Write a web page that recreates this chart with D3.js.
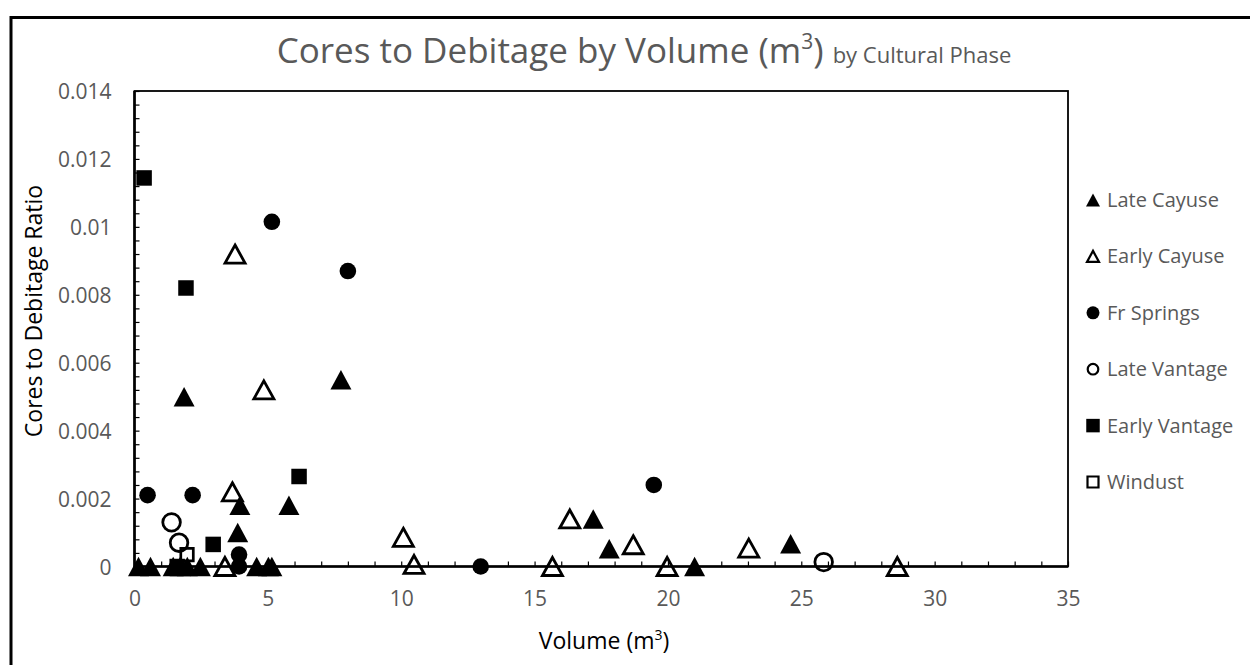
<!DOCTYPE html>
<html><head><meta charset="utf-8">
<script src="https://cdn.jsdelivr.net/npm/d3@7"></script>
<style>body{margin:0;background:#fff;} text{font-family:"Open Sans",sans-serif;}</style>
</head><body><svg id="c" width="1250" height="665"></svg>
<script>
// ---- data ----
const seriesNames = ["Late Cayuse", "Early Cayuse", "Fr Springs", "Late Vantage", "Early Vantage", "Windust"];
const lateCayuseX = [1.86, 3.95, 3.87, 7.74, 5.79, 17.2, 17.8, 24.6, 21.0, 0.15, 0.6, 1.45, 1.71, 1.98, 2.47, 4.58, 5.02, 5.15];
const lateCayuseY = [0.0050, 0.0018, 0.0010, 0.0055, 0.0018, 0.0014, 0.00052, 0.00067, 0, 0, 0, 0, 0, 0, 0, 0, 0, 0];
const earlyCayuseX = [3.77, 4.85, 3.67, 10.08, 10.48, 3.39, 15.67, 16.32, 18.7, 19.97, 23.03, 28.6];
const earlyCayuseY = [0.0092, 0.0052, 0.0022, 0.00086, 0.00006, 0, 0, 0.0014, 0.00064, 0, 0.00054, 0];
const frSpringsX = [0.49, 2.18, 5.15, 8.0, 3.92, 3.92, 12.98, 19.47];
const frSpringsY = [0.0021, 0.0021, 0.01015, 0.0087, 0.00035, 0, 0, 0.0024];
const lateVantageX = [1.39, 1.67, 25.84];
const lateVantageY = [0.0013, 0.0007, 0.00013];
const earlyVantageX = [0.36, 1.93, 6.17, 2.95, 1.6];
const earlyVantageY = [0.01144, 0.0082, 0.00265, 0.00065, 0];
const windustX = [1.97];
const windustY = [0.00035];
const xTickValues = [0, 5, 10, 15, 20, 25, 30, 35];
const yTickValues = [0, 0.002, 0.004, 0.006, 0.008, 0.01, 0.012, 0.014];
const yTickLabels = ["0", "0.002", "0.004", "0.006", "0.008", "0.01", "0.012", "0.014"];

// ---- chart ----
const svg = d3.select("#c");
const grey = "#595959";
const x = d3.scaleLinear().domain([0, 35]).range([134.5, 1068]);
const y = d3.scaleLinear().domain([0, 0.014]).range([566.5, 91]);

// outer frame
svg.append("rect").attr("x", 11).attr("y", 17.5).attr("width", 1400).attr("height", 800)
  .attr("fill", "#fff").attr("stroke", "#000").attr("stroke-width", 3);

// plot border
svg.append("rect").attr("x", x(0)).attr("y", y(0.014)).attr("width", x(35) - x(0)).attr("height", y(0) - y(0.014))
  .attr("fill", "none").attr("stroke", "#000").attr("stroke-width", 1.8);

// minor ticks
const xMinor = svg.append("g").attr("transform", `translate(0,${y(0)})`)
  .call(d3.axisTop(x).tickValues(d3.range(0, 36, 1)).tickSize(5).tickFormat(""));
xMinor.select(".domain").remove();
xMinor.selectAll("line").attr("stroke", "#000").attr("stroke-width", 1.2);
const yMinor = svg.append("g").attr("transform", `translate(${x(0)},0)`)
  .call(d3.axisRight(y).tickValues(d3.range(0, 36).map(i => i * 0.0004)).tickSize(5).tickFormat(""));
yMinor.select(".domain").remove();
yMinor.selectAll("line").attr("stroke", "#000").attr("stroke-width", 1.2);

// axis lines
svg.append("line").attr("x1", x(0)).attr("x2", x(35)).attr("y1", y(0)).attr("y2", y(0)).attr("stroke", "#000").attr("stroke-width", 2.6);
svg.append("line").attr("x1", x(0)).attr("x2", x(0)).attr("y1", y(0) + 1.3).attr("y2", y(0.014)).attr("stroke", "#000").attr("stroke-width", 2.6);

// tick labels
const xLab = svg.append("g").attr("transform", `translate(0,${y(0)})`)
  .call(d3.axisBottom(x).tickValues(xTickValues).tickSize(0).tickPadding(25).tickFormat(d3.format("d")));
xLab.select(".domain").remove();
xLab.selectAll("text").attr("fill", grey).style("font-size", "21px").style("font-family", '"Open Sans",sans-serif');
const yLab = svg.append("g").attr("transform", `translate(${x(0) - 23},1)`)
  .call(d3.axisLeft(y).tickValues(yTickValues).tickSize(0).tickPadding(0).tickFormat((d, i) => yTickLabels[i]));
yLab.select(".domain").remove();
yLab.selectAll("text").attr("fill", grey).style("font-size", "21px").style("font-family", '"Open Sans",sans-serif');

// titles
const t = svg.append("text").attr("x", 644).attr("y", 63).attr("text-anchor", "middle").attr("fill", grey);
t.append("tspan").style("font-size", "35px").text("Cores to Debitage by Volume (m");
t.append("tspan").style("font-size", "21px").attr("dy", -14).text("3");
t.append("tspan").style("font-size", "35px").attr("dy", 14).text(") ");
t.append("tspan").style("font-size", "22px").text("by Cultural Phase");

const xt = svg.append("text").attr("x", 604).attr("y", 649).attr("text-anchor", "middle").attr("fill", "#000");
xt.append("tspan").style("font-size", "23px").text("Volume (m");
xt.append("tspan").style("font-size", "14px").attr("dy", -9).text("3");
xt.append("tspan").style("font-size", "23px").attr("dy", 9).text(")");

svg.append("text").attr("transform", "translate(42,311) rotate(-90)").attr("text-anchor", "middle")
  .attr("fill", "#000").style("font-size", "23px").text("Cores to Debitage Ratio");

// marker shapes (centered on bounding box)
function tri(w, h) { return `M0,${-h / 2}L${w / 2},${h / 2}L${-w / 2},${h / 2}Z`; }
function sq(s) { return `M${-s / 2},${-s / 2}h${s}v${s}h${-s}Z`; }
function circ(r) { return `M${r},0A${r},${r} 0 1,1 ${-r},0A${r},${r} 0 1,1 ${r},0Z`; }

const styles = [
  { path: tri(21, 19.5), fill: "#000", stroke: "none", sw: 0, lpath: tri(14, 13) },
  { path: tri(20, 18), fill: "none", stroke: "#000", sw: 2.8, lpath: tri(12, 11) },
  { path: circ(8.3), fill: "#000", stroke: "none", sw: 0, lpath: circ(6.5) },
  { path: circ(8.8), fill: "none", stroke: "#000", sw: 2.8, lpath: circ(5.3) },
  { path: sq(15.5), fill: "#000", stroke: "none", sw: 0, lpath: sq(13.5) },
  { path: sq(12.5), fill: "none", stroke: "#000", sw: 2.7, lpath: sq(11) }
];
const seriesX = [lateCayuseX, earlyCayuseX, frSpringsX, lateVantageX, earlyVantageX, windustX];
const seriesY = [lateCayuseY, earlyCayuseY, frSpringsY, lateVantageY, earlyVantageY, windustY];
const order = [1, 0, 2, 3, 4, 5];
order.forEach(si => {
  const pts = seriesX[si].map((v, i) => [v, seriesY[si][i]]);
  const st = styles[si];
  svg.append("g").selectAll("path").data(pts).join("path")
    .attr("d", st.path)
    .attr("transform", d => `translate(${x(d[0])},${y(d[1])})`)
    .attr("fill", st.fill).attr("stroke", st.stroke).attr("stroke-width", st.sw);
});

// legend
const legendY = d3.scalePoint().domain(seriesNames).range([200, 482]);
const lg = svg.append("g");
seriesNames.forEach((n, i) => {
  const st = styles[i];
  lg.append("path").attr("d", st.lpath).attr("transform", `translate(1093,${legendY(n)})`)
    .attr("fill", st.fill).attr("stroke", st.stroke).attr("stroke-width", st.sw ? 2.2 : 0);
  lg.append("text").attr("x", 1107).attr("y", legendY(n)).attr("dy", "0.35em")
    .attr("fill", grey).style("font-size", "20px").text(n);
});
</script></body></html>
